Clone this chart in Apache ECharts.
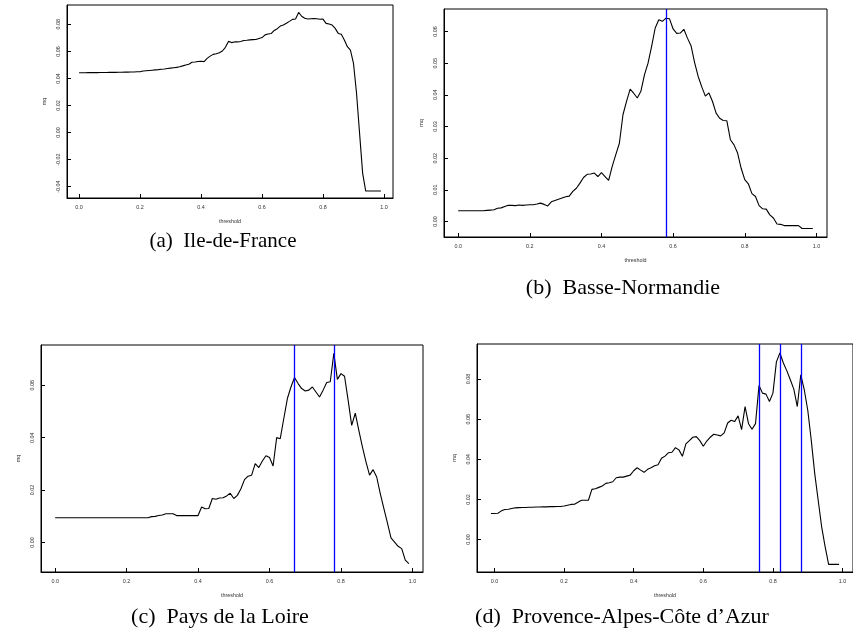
<!DOCTYPE html>
<html lang="en">
<head>
<meta charset="UTF-8">
<title>mq against threshold, four regions</title>
<script src="https://cdn.jsdelivr.net/npm/echarts@6.0.0/dist/echarts.min.js"></script>
<style>
  html, body { margin: 0; padding: 0; background: #fff; }
  #chart { width: 853px; height: 638px; }
</style>
</head>
<body>
<div id="chart"></div>
<script>
// x values (threshold) for panels a, b, c
const thresholds = [
  0.00, 0.01, 0.02, 0.03, 0.04, 0.05, 0.06, 0.07, 0.08, 0.09,
  0.10, 0.11, 0.12, 0.13, 0.14, 0.15, 0.16, 0.17, 0.18, 0.19,
  0.20, 0.21, 0.22, 0.23, 0.24, 0.25, 0.26, 0.27, 0.28, 0.29,
  0.30, 0.31, 0.32, 0.33, 0.34, 0.35, 0.36, 0.37, 0.38, 0.39,
  0.40, 0.41, 0.42, 0.43, 0.44, 0.45, 0.46, 0.47, 0.48, 0.49,
  0.50, 0.51, 0.52, 0.53, 0.54, 0.55, 0.56, 0.57, 0.58, 0.59,
  0.60, 0.61, 0.62, 0.63, 0.64, 0.65, 0.66, 0.67, 0.68, 0.69,
  0.70, 0.71, 0.72, 0.73, 0.74, 0.75, 0.76, 0.77, 0.78, 0.79,
  0.80, 0.81, 0.82, 0.83, 0.84, 0.85, 0.86, 0.87, 0.88, 0.89,
  0.90, 0.91, 0.92, 0.93, 0.94, 0.95, 0.96, 0.97, 0.98, 0.99
];
// panel d starts one step earlier
const thresholdsPaca = [-0.01].concat(thresholds);

// (a) Ile-de-France
const mqIdf = [
  0.0442, 0.0442, 0.0442, 0.0443, 0.0443, 0.0443, 0.0443, 0.0444, 0.0444, 0.0444,
  0.0445, 0.0445, 0.0445, 0.0446, 0.0446, 0.0447, 0.0447, 0.0448, 0.0448, 0.0449,
  0.0450, 0.0455, 0.0457, 0.0459, 0.0461, 0.0463, 0.0465, 0.0468, 0.0470, 0.0473,
  0.0476, 0.0479, 0.0482, 0.0487, 0.0493, 0.0500, 0.0505, 0.0520, 0.0522, 0.0525,
  0.0527, 0.0524, 0.0548, 0.0565, 0.0578, 0.0582, 0.0590, 0.0603, 0.0630, 0.0674,
  0.0665, 0.0670, 0.0670, 0.0673, 0.0680, 0.0682, 0.0685, 0.0687, 0.0688, 0.0695,
  0.0702, 0.0722, 0.0728, 0.0732, 0.0755, 0.0768, 0.0787, 0.0795, 0.0808, 0.0822,
  0.0837, 0.0840, 0.0888, 0.0860, 0.0845, 0.0839, 0.0841, 0.0843, 0.0841, 0.0838,
  0.0839, 0.0807, 0.0802, 0.0795, 0.0770, 0.0733, 0.0726, 0.0684, 0.0635, 0.0610,
  0.0511, 0.0290, -0.0006, -0.0300, -0.0432, -0.0432, -0.0432, -0.0432, -0.0432, -0.0432
];

// (b) Basse-Normandie
const mqBn = [
  0.0034, 0.0034, 0.0034, 0.0034, 0.0034, 0.0034, 0.0034, 0.0034, 0.0035, 0.0036,
  0.0037, 0.0042, 0.0043, 0.0047, 0.0051, 0.0051, 0.0050, 0.0052, 0.0051, 0.0052,
  0.0053, 0.0053, 0.0055, 0.0058, 0.0054, 0.0049, 0.0062, 0.0066, 0.0070, 0.0074,
  0.0078, 0.0080, 0.0095, 0.0105, 0.0121, 0.0139, 0.0149, 0.0150, 0.0153, 0.0142,
  0.0154, 0.0142, 0.0130, 0.0174, 0.0211, 0.0247, 0.0337, 0.0379, 0.0418, 0.0405,
  0.0390, 0.0411, 0.0463, 0.0500, 0.0553, 0.0611, 0.0637, 0.0632, 0.0642, 0.0640,
  0.0608, 0.0594, 0.0595, 0.0607, 0.0579, 0.0555, 0.0502, 0.0458, 0.0425, 0.0396,
  0.0406, 0.0379, 0.0342, 0.0326, 0.0319, 0.0318, 0.0258, 0.0242, 0.0216, 0.0168,
  0.0132, 0.0119, 0.0088, 0.0079, 0.0050, 0.0040, 0.0039, 0.0021, 0.0011, -0.0008,
  -0.0009, -0.0013, -0.0013, -0.0013, -0.0013, -0.0013, -0.0022, -0.0022, -0.0022, -0.0022
];

// (c) Pays de la Loire
const mqPdl = [
  0.0095, 0.0095, 0.0095, 0.0095, 0.0095, 0.0095, 0.0095, 0.0095, 0.0095, 0.0095,
  0.0095, 0.0095, 0.0095, 0.0095, 0.0095, 0.0095, 0.0095, 0.0095, 0.0095, 0.0095,
  0.0095, 0.0095, 0.0095, 0.0095, 0.0095, 0.0095, 0.0095, 0.0099, 0.0100, 0.0103,
  0.0105, 0.0110, 0.0110, 0.0110, 0.0103, 0.0103, 0.0103, 0.0103, 0.0103, 0.0103,
  0.0103, 0.0136, 0.0129, 0.0130, 0.0168, 0.0165, 0.0170, 0.0171, 0.0178, 0.0188,
  0.0168, 0.0180, 0.0205, 0.0240, 0.0253, 0.0257, 0.0301, 0.0286, 0.0311, 0.0331,
  0.0324, 0.0292, 0.0400, 0.0396, 0.0473, 0.0549, 0.0593, 0.0629, 0.0606, 0.0587,
  0.0578, 0.0581, 0.0593, 0.0574, 0.0555, 0.0581, 0.0610, 0.0613, 0.0721, 0.0622,
  0.0644, 0.0634, 0.0543, 0.0447, 0.0493, 0.0428, 0.0365, 0.0308, 0.0257, 0.0278,
  0.0250, 0.0187, 0.0130, 0.0075, 0.0018, 0.0002, -0.0014, -0.0023, -0.0067, -0.0080
];

// (d) Provence-Alpes-Côte d'Azur (from -0.01)
const mqPaca = [
  0.0130,
  0.0130, 0.0131, 0.0143, 0.0150, 0.0151, 0.0155, 0.0158, 0.0159, 0.0160, 0.0160,
  0.0161, 0.0161, 0.0162, 0.0162, 0.0163, 0.0163, 0.0164, 0.0164, 0.0165, 0.0165,
  0.0167, 0.0171, 0.0175, 0.0176, 0.0186, 0.0196, 0.0196, 0.0196, 0.0250, 0.0253,
  0.0260, 0.0267, 0.0280, 0.0283, 0.0288, 0.0308, 0.0311, 0.0311, 0.0316, 0.0321,
  0.0343, 0.0358, 0.0346, 0.0335, 0.0350, 0.0358, 0.0368, 0.0373, 0.0405, 0.0416,
  0.0433, 0.0435, 0.0458, 0.0447, 0.0415, 0.0477, 0.0493, 0.0510, 0.0513, 0.0493,
  0.0465, 0.0491, 0.0510, 0.0525, 0.0521, 0.0517, 0.0532, 0.0581, 0.0595, 0.0588,
  0.0617, 0.0548, 0.0663, 0.0577, 0.0550, 0.0578, 0.0768, 0.0730, 0.0725, 0.0688,
  0.0730, 0.0886, 0.0930, 0.0880, 0.0841, 0.0797, 0.0750, 0.0663, 0.0821, 0.0747,
  0.0646, 0.0497, 0.0330, 0.0196, 0.0063, -0.0037, -0.0124, -0.0124, -0.0124, -0.0124
];

// tick positions
const xTicks = [0, 0.2, 0.4, 0.6, 0.8, 1.0];
const yTicksIdf = [-0.04, -0.02, 0, 0.02, 0.04, 0.06, 0.08];
const yTicksBn = [0, 0.01, 0.02, 0.03, 0.04, 0.05, 0.06];
const yTicksPdl = [0, 0.02, 0.04, 0.06];
const yTicksPaca = [0, 0.02, 0.04, 0.06, 0.08];

// chosen thresholds (vertical lines)
const cutsBn = [0.58];
const cutsPdl = [0.67, 0.78];
const cutsPaca = [0.76, 0.82, 0.88];

const captions = ['(a)  Ile-de-France', '(b)  Basse-Normandie', '(c)  Pays de la Loire', '(d)  Provence-Alpes-Côte d\u2019Azur'];

const panels = [
  { x: thresholds, y: mqIdf, yTicks: yTicksIdf, cuts: [],
    grid: { left: 67, top: 5, width: 326, height: 193 },
    xr: [-0.0396, 1.0296], yr: [-0.0484, 0.0943], cap: [223, 241], capSize: 21 },
  { x: thresholds, y: mqBn, yTicks: yTicksBn, cuts: cutsBn,
    grid: { left: 444, top: 9, width: 383, height: 228 },
    xr: [-0.0396, 1.0296], yr: [-0.0049, 0.0671], cap: [623, 288], capSize: 22 },
  { x: thresholds, y: mqPdl, yTicks: yTicksPdl, cuts: cutsPdl,
    grid: { left: 41, top: 345, width: 382, height: 227 },
    xr: [-0.0396, 1.0296], yr: [-0.0112, 0.0753], cap: [220, 617], capSize: 22 },
  { x: thresholdsPaca, y: mqPaca, yTicks: yTicksPaca, cuts: cutsPaca,
    grid: { left: 477, top: 344, width: 383, height: 228 },
    xr: [-0.05, 1.03], yr: [-0.0162, 0.0975], cap: [622, 617], capSize: 22 }
];

const small = { fontSize: 5.4, color: '#333', fontFamily: 'Liberation Sans, Arial, sans-serif' };
const tickStyle = { show: true, inside: true, length: 4, lineStyle: { color: '#000', width: 1 } };

const chart = echarts.init(document.getElementById('chart'), null, { renderer: 'canvas' });

chart.setOption({
  animation: false,
  backgroundColor: '#fff',
  grid: panels.map(p => Object.assign({ show: true, borderColor: '#000', borderWidth: 1, backgroundColor: 'transparent' }, p.grid)),
  xAxis: panels.map((p, i) => ({
    type: 'value', gridIndex: i, min: p.xr[0], max: p.xr[1],
    axisLine: { show: true, onZero: false, lineStyle: { color: '#000', width: 1 } },
    splitLine: { show: false },
    axisTick: Object.assign({ customValues: xTicks }, tickStyle),
    axisLabel: Object.assign({ customValues: xTicks, margin: 7, formatter: v => v.toFixed(1) }, small),
    name: 'threshold', nameLocation: 'middle', nameGap: 21, nameTextStyle: small
  })),
  yAxis: panels.map((p, i) => ({
    type: 'value', gridIndex: i, min: p.yr[0], max: p.yr[1],
    axisLine: { show: true, onZero: false, lineStyle: { color: '#000', width: 1 } },
    splitLine: { show: false },
    axisTick: Object.assign({ customValues: p.yTicks }, tickStyle),
    axisLabel: Object.assign({ customValues: p.yTicks, margin: 6, rotate: 90, formatter: v => v.toFixed(2) }, small),
    name: 'mq', nameLocation: 'middle', nameGap: 20, nameRotate: 90, nameTextStyle: small
  })),
  series: panels.map((p, i) => ({
    type: 'line', xAxisIndex: i, yAxisIndex: i,
    data: p.x.map((t, k) => [t, p.y[k]]),
    symbol: 'none', showSymbol: false,
    lineStyle: { color: '#000', width: 1.1 },
    markLine: {
      silent: true, symbol: ['none', 'none'], label: { show: false },
      lineStyle: { color: '#0000ff', width: 1.3, type: 'solid', opacity: 1 },
      emphasis: { disabled: true },
      data: p.cuts.map(c => ({ xAxis: c }))
    }
  })),
  graphic: panels.map((p, i) => ({
    type: 'text', x: p.cap[0], y: p.cap[1],
    style: {
      text: captions[i], fill: '#000',
      font: p.capSize + 'px "Liberation Serif", "Times New Roman", serif',
      textAlign: 'center', textVerticalAlign: 'middle'
    }
  }))
});
</script>
</body>
</html>
